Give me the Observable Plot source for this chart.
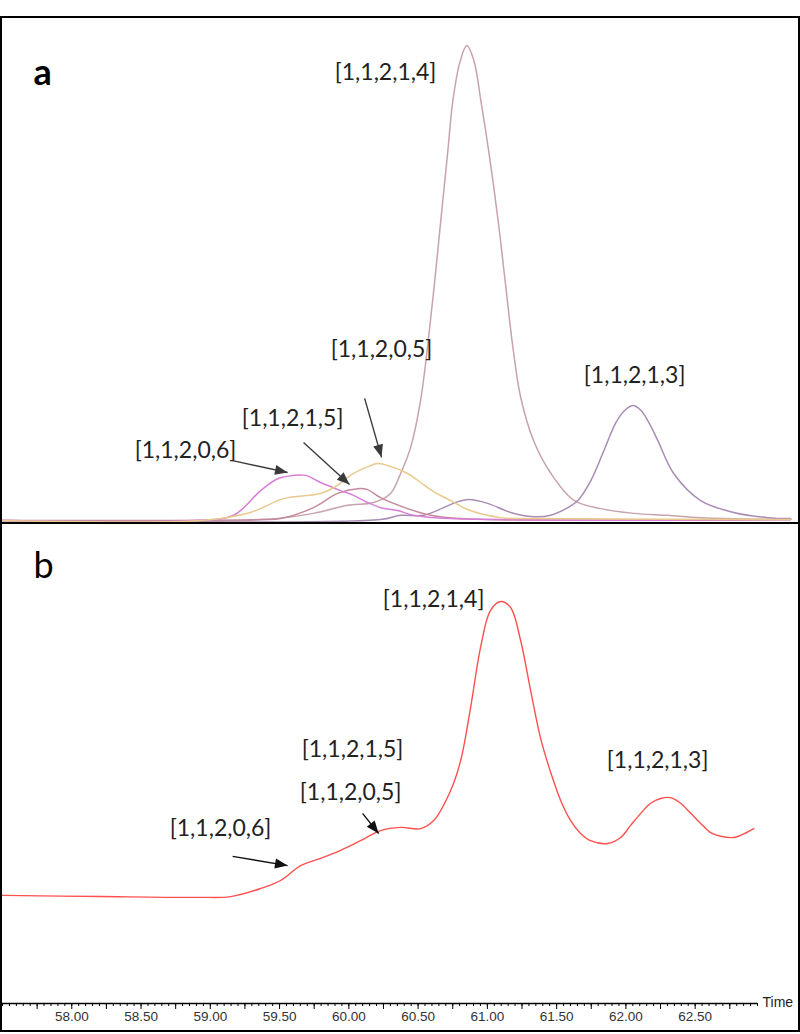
<!DOCTYPE html>
<html><head><meta charset="utf-8">
<script src="https://cdn.jsdelivr.net/npm/d3@7"></script>
<script src="https://cdn.jsdelivr.net/npm/@observablehq/plot@0.6"></script>
<style>
body{margin:0;background:#fff;}
#box{position:absolute;left:0;top:16px;width:796px;border:2px solid #000;background:#fff;}
#pa{border-bottom:2px solid #000;}
#pa svg,#pb svg{display:block;}
</style></head><body><div id="box"><div id="pa"></div><div id="pb"></div></div>
<script>
// ---------- shared axis ----------
const timeTicks = [58.00, 58.50, 59.00, 59.50, 60.00, 60.50, 61.00, 61.50, 62.00, 62.50];
const quarterTicks = [57.75, 58.25, 58.75, 59.25, 59.75, 60.25, 60.75, 61.25, 61.75, 62.25, 62.75];

// ---------- panel a : extracted ion chromatograms ----------
const seriesA = ["[1,1,2,1,4]", "[1,1,2,1,3]", "[1,1,2,1,5]", "[1,1,2,0,6]", "[1,1,2,0,5]"];
const tA_114 = [57.50, 59.385, 59.745, 59.991, 60.179, 60.301, 60.374, 60.446, 60.518, 60.605, 60.664, 60.715, 60.751, 60.801, 60.852, 60.903, 60.953, 61.009, 61.074, 61.132, 61.182, 61.240, 61.334, 61.457, 61.623, 61.818, 62.056, 62.301, 62.540, 63.19];
const vA_114 = [0, 0.2, 1.5, 3.2, 3.8, 5.7, 9.9, 15.4, 25.3, 46.3, 63.2, 77.9, 88.4, 96.4, 100, 96.8, 88.4, 77.9, 64.0, 49.5, 37.0, 26.0, 16.8, 10.0, 4.3, 2.5, 1.5, 1.1, 0.6, 0.2];
const tA_113 = [57.50, 60.229, 60.374, 60.540, 60.684, 60.771, 60.865, 61.002, 61.168, 61.334, 61.457, 61.581, 61.653, 61.747, 61.841, 61.928, 61.993, 62.051, 62.108, 62.166, 62.231, 62.345, 62.540, 62.778, 63.023, 63.19];
const vA_113 = [0, 0.2, 1.1, 1.1, 2.7, 3.8, 4.4, 3.6, 1.7, 0.8, 1.1, 2.7, 4.2, 8.4, 14.7, 20.6, 23.2, 24.2, 23.2, 20.6, 16.8, 9.9, 4.2, 1.7, 0.6, 0.4];
const tA_115 = [57.50, 59.363, 59.507, 59.745, 59.919, 60.063, 60.135, 60.229, 60.424, 60.590, 60.807, 63.19];
const vA_115 = [0, 0.2, 0.4, 2.7, 5.7, 6.7, 6.5, 4.8, 2.5, 1.1, 0.4, 0.2];
const tA_106 = [57.50, 58.879, 59.168, 59.363, 59.486, 59.601, 59.688, 59.796, 59.940, 60.034, 60.135, 60.229, 60.352, 60.468, 60.735, 63.19];
const vA_106 = [0, 0, 1.1, 6.3, 8.8, 9.5, 9.5, 8.0, 6.3, 5.3, 3.8, 2.7, 2.1, 1.1, 0.4, 0.2];
const tA_105 = [57.50, 58.930, 59.291, 59.529, 59.796, 59.890, 60.034, 60.143, 60.208, 60.301, 60.424, 60.518, 60.612, 60.735, 60.857, 61.096, 61.334, 63.19];
const vA_105 = [0, 0, 1.7, 4.6, 5.7, 6.9, 9.9, 11.4, 12.0, 11.4, 9.9, 8.0, 6.1, 4.2, 2.3, 0.6, 0.4, 0.2];

const labelsA = ["[1,1,2,1,4]", "[1,1,2,1,3]", "[1,1,2,0,5]", "[1,1,2,1,5]", "[1,1,2,0,6]"];
const labelA_t = [60.265, 62.063, 60.236, 59.594, 58.821];
const labelA_v = [94.3, 30.5, 36.0, 21.5, 14.7];
const arrowA_t1 = [59.161, 59.673, 60.114];
const arrowA_v1 = [12.6, 16.4, 25.7];
const arrowA_t2 = [59.558, 60.005, 60.236];
const arrowA_v2 = [10.1, 7.6, 13.3];

// ---------- panel b : total chromatogram ----------
const tB = [57.50, 58.208, 58.930, 59.146, 59.363, 59.507, 59.652, 59.796, 59.940, 60.085, 60.229, 60.374, 60.518, 60.612, 60.735, 60.807, 60.879, 60.951, 61.023, 61.096, 61.168, 61.240, 61.312, 61.384, 61.457, 61.529, 61.601, 61.673, 61.745, 61.868, 61.962, 62.034, 62.107, 62.179, 62.251, 62.323, 62.395, 62.468, 62.540, 62.612, 62.684, 62.778, 62.827, 62.923];
const vB = [26.9, 26.6, 26.4, 26.6, 28.6, 30.6, 34.3, 36.1, 38.1, 40.5, 43.0, 43.8, 43.5, 45.5, 53.0, 60.4, 73.6, 88.6, 97.8, 100, 98.5, 90.3, 77.9, 66.0, 57.5, 50.5, 45.5, 42.3, 40.5, 39.8, 41.3, 44.3, 47.3, 49.8, 51.0, 51.2, 49.8, 47.3, 44.8, 42.5, 41.6, 41.3, 41.8, 43.5];

const labelsB = ["[1,1,2,1,4]", "[1,1,2,1,5]", "[1,1,2,0,5]", "[1,1,2,0,6]", "[1,1,2,1,3]"];
const labelB_t = [60.612, 60.027, 60.013, 59.074, 62.229];
const labelB_v = [100.5, 63.2, 52.5, 43.5, 60.4];
const arrowB_t1 = [59.161, 60.099];
const arrowB_v1 = [36.6, 47.3];
const arrowB_t2 = [59.558, 60.215];
const arrowB_v2 = [34.3, 42.3];

// ---------- styles ----------
const colorA = {"[1,1,2,1,4]": "#c7a3ab", "[1,1,2,1,3]": "#a98cb4", "[1,1,2,1,5]": "#c4899a", "[1,1,2,0,6]": "#d97ed8", "[1,1,2,0,5]": "#e9c98d"};
const labelFont = "Lato, 'Open Sans', sans-serif";

const tA = {"[1,1,2,1,4]": tA_114, "[1,1,2,1,3]": tA_113, "[1,1,2,1,5]": tA_115, "[1,1,2,0,6]": tA_106, "[1,1,2,0,5]": tA_105};
const vA = {"[1,1,2,1,4]": vA_114, "[1,1,2,1,3]": vA_113, "[1,1,2,1,5]": vA_115, "[1,1,2,0,6]": vA_106, "[1,1,2,0,5]": vA_105};
const zip = (a, b) => a.map((d, i) => ({t: d, v: b[i]}));
const labA = labelsA.map((s, i) => ({s, t: labelA_t[i], v: labelA_v[i]}));
const labB = labelsB.map((s, i) => ({s, t: labelB_t[i], v: labelB_v[i]}));
const arrA = arrowA_t1.map((d, i) => ({t1: d, v1: arrowA_v1[i], t2: arrowA_t2[i], v2: arrowA_v2[i]}));
const arrB = arrowB_t1.map((d, i) => ({t1: d, v1: arrowB_v1[i], t2: arrowB_t2[i], v2: arrowB_v2[i]}));

function fillHeads(svg) {
  d3.select(svg).selectAll("marker").each(function () {
    const m = d3.select(this);
    const c = m.attr("stroke");
    m.attr("fill", c).attr("stroke", "none").attr("viewBox", "-10 -5 10 10")
     .attr("markerWidth", 9).attr("markerHeight", 9).style("overflow", "visible");
    m.selectAll("path").attr("d", "M-10,-4L0,0L-10,4Z");
  });
  return svg;
}

const xDomain = [57.5, 62.95];

const plotA = Plot.plot({
  width: 796, height: 504,
  marginLeft: 0, marginRight: 41, marginTop: 27, marginBottom: 2,
  x: {domain: xDomain, axis: null},
  y: {domain: [0, 100], axis: null},
  style: {background: "transparent"},
  marks: [
    ...seriesA.map(s => Plot.line(zip(tA[s], vA[s]), {x: "t", y: "v", stroke: colorA[s], strokeWidth: 1.5, curve: "catmull-rom"})),
    Plot.text(labA, {x: "t", y: "v", text: "s", fontSize: 23, fontFamily: labelFont, fill: "#222"}),
    Plot.link(arrA, {x1: "t1", y1: "v1", x2: "t2", y2: "v2", stroke: "#3a3a3a", strokeWidth: 1.4, markerEnd: "arrow"}),
    Plot.text(["a"], {frameAnchor: "top-left", dx: 31, dy: 39, textAnchor: "start", lineAnchor: "bottom", fontSize: 36, fontWeight: "bold", fontFamily: labelFont, fill: "#000"})
  ]
});
document.getElementById("pa").appendChild(fillHeads(plotA));

const plotB = Plot.plot({
  width: 796, height: 506,
  marginLeft: 0, marginRight: 41, marginTop: 77, marginBottom: 27,
  x: {domain: xDomain, axis: null},
  y: {domain: [0, 100], axis: null},
  style: {background: "transparent"},
  marks: [
    Plot.axisX({ticks: 110, tickSize: 3, tickFormat: () => "", stroke: "#000"}),
    Plot.axisX({ticks: quarterTicks, tickSize: 6, tickFormat: () => "", stroke: "#000"}),
    Plot.axisX({ticks: timeTicks, tickSize: 6, tickPadding: 2, tickFormat: d3.format(".2f"), fontSize: 13.5, fontFamily: "'Liberation Sans', Arial, sans-serif", fill: "#333", stroke: "#000"}),
    Plot.ruleY([0], {stroke: "#000", strokeWidth: 1.5}),
    Plot.text(["Time"], {frameAnchor: "bottom-right", dx: 5, dy: -1, textAnchor: "start", lineAnchor: "middle", fontSize: 14, fontFamily: "'Liberation Sans', Arial, sans-serif", fill: "#222"}),
    Plot.line(zip(tB, vB), {x: "t", y: "v", stroke: "#ff5050", strokeWidth: 1.4, curve: "catmull-rom"}),
    Plot.text(labB, {x: "t", y: "v", text: "s", fontSize: 23, fontFamily: labelFont, fill: "#222"}),
    Plot.link(arrB, {x1: "t1", y1: "v1", x2: "t2", y2: "v2", stroke: "#111", strokeWidth: 1.4, markerEnd: "arrow"}),
    Plot.text(["b"], {frameAnchor: "top-left", dx: 31, dy: -24, textAnchor: "start", lineAnchor: "bottom", fontSize: 36, fontFamily: labelFont, fill: "#000"})
  ]
});
document.getElementById("pb").appendChild(fillHeads(plotB));
</script>
</body></html>
